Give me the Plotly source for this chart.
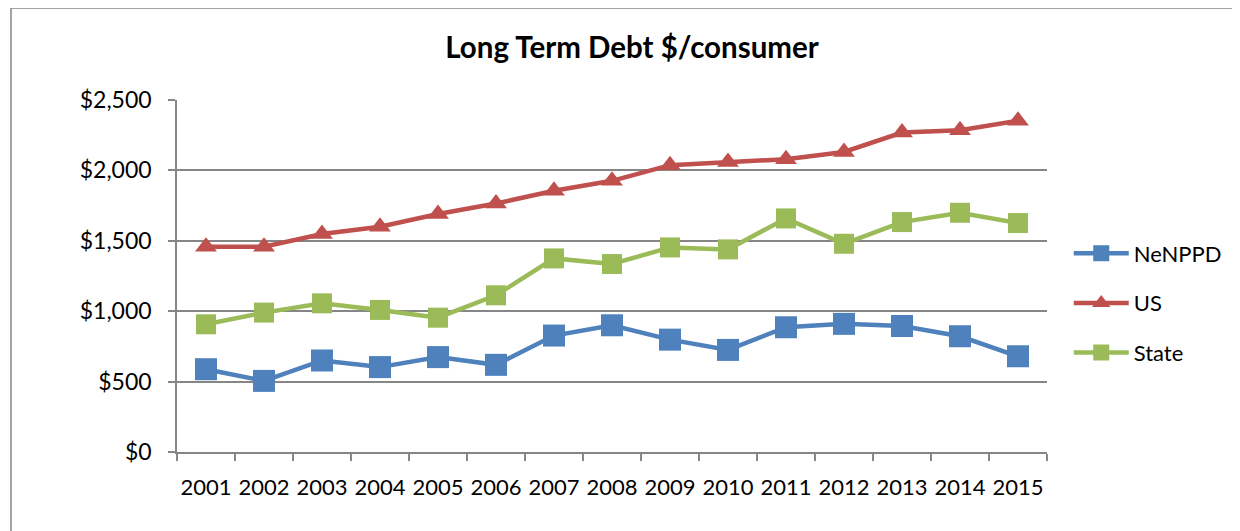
import plotly.graph_objects as go

years = ["2001", "2002", "2003", "2004", "2005", "2006", "2007", "2008",
         "2009", "2010", "2011", "2012", "2013", "2014", "2015"]
nenppd = [588, 505, 650, 603, 674, 619, 827, 900, 798, 725, 886, 910, 895, 822, 680]
us = [1458, 1458, 1548, 1600, 1690, 1765, 1855, 1926, 2037, 2060, 2080, 2131, 2269, 2285, 2352]
state = [907, 990, 1056, 1009, 954, 1113, 1375, 1335, 1453, 1439, 1659, 1479, 1633, 1699, 1626]

FONT = "Lato"
GRAY = "#868686"
W, H = 1232, 523  # page body has 8px margin

fig = go.Figure()
fig.add_trace(go.Scatter(x=years, y=nenppd, name="NeNPPD", mode="lines+markers",
                         legendgroup="a",
                         line=dict(color="#4F81BD", width=4.5),
                         marker=dict(symbol="square", size=22, color="#4F81BD")))
fig.add_trace(go.Scatter(x=years, y=us, name="US", mode="lines+markers",
                         legendgroup="b",
                         line=dict(color="#C0504D", width=4.5),
                         marker=dict(symbol="triangle-up", size=19, color="#C0504D")))
fig.add_trace(go.Scatter(x=years, y=state, name="State", mode="lines+markers",
                         legendgroup="c",
                         line=dict(color="#9BBB59", width=4.5),
                         marker=dict(symbol="square", size=20, color="#9BBB59")))

fig.update_layout(
    width=W, height=H,
    margin=dict(l=169, r=193, t=92, b=79, autoexpand=False),
    paper_bgcolor="white", plot_bgcolor="white",
    font=dict(family=FONT, size=22, color="black"),
    title=dict(text="<b>Long Term Debt $/consumer</b>", x=624 / W, xref="container",
               xanchor="center", y=1 - 40 / H, yref="container", yanchor="middle",
               font=dict(family=FONT, size=29.5, color="black")),
    showlegend=True,
    legend=dict(x=1.025, xanchor="left", y=(452 - 303) / 352, yanchor="middle",
                font=dict(family=FONT, size=22), tracegroupgap=18,
                itemwidth=55, bgcolor="rgba(0,0,0,0)"),
    xaxis=dict(type="category", range=[-0.5, 14.5], showgrid=False, showline=True,
               linecolor=GRAY, linewidth=1.5, ticks="outside", ticklen=7,
               tickwidth=1.5, tickcolor=GRAY, tickson="boundaries",
               ticklabelstandoff=15, tickangle=0, automargin=False,
               tickfont=dict(family=FONT, size=22)),
    yaxis=dict(range=[0, 2500], dtick=500, tickprefix="$", tickformat=",",
               showgrid=True, gridcolor=GRAY, gridwidth=1.5, showline=True,
               linecolor=GRAY, linewidth=1.5, ticks="outside", ticklen=7,
               tickwidth=1.5, tickcolor=GRAY, ticklabelstandoff=12,
               zeroline=False, automargin=False,
               tickfont=dict(family=FONT, size=23)),
    shapes=[dict(type="rect", xref="paper", yref="paper",
                 x0=(3 - 169) / 870, x1=1.3, y0=-0.4, y1=(452 - 8 - 0) / 352 + 0.0,
                 line=dict(color=GRAY, width=1.5), fillcolor="rgba(0,0,0,0)",
                 layer="below")],
)

fig.write_html("out.html")
